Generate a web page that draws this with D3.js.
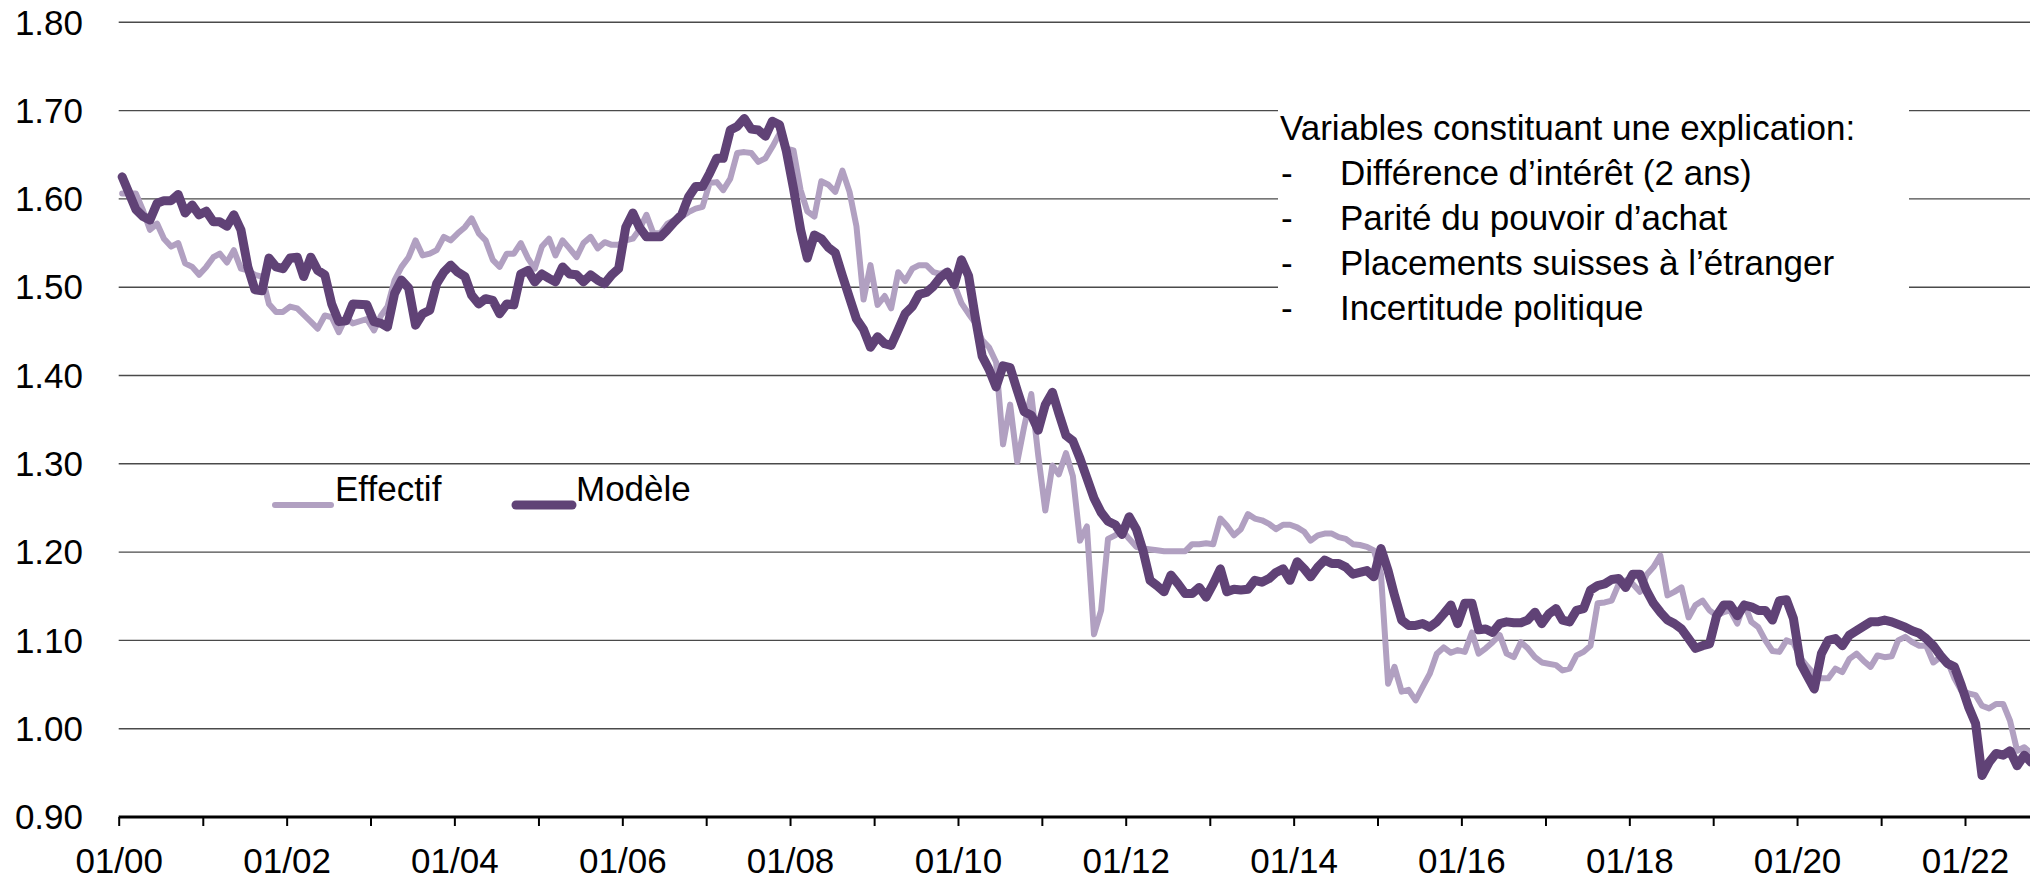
<!DOCTYPE html>
<html>
<head>
<meta charset="utf-8">
<script src="https://cdn.jsdelivr.net/npm/d3@7"></script>
<style>
  body { margin: 0; background: #fff; }
  text { font-family: "Liberation Sans", Arial, sans-serif; fill: #000; }
</style>
</head>
<body>
<svg id="chart"></svg>
<script>
// months since 01/2000, value (EUR/CHF)
var effectif = [[0,1.606],[2,1.606],[3,1.587],[4,1.565],[5,1.572],[6,1.555],[7,1.546],[8,1.550],[9,1.527],[10,1.523],[11,1.514],[12,1.523],[13,1.534],[14,1.538],[15,1.528],[16,1.542],[17,1.521],[18,1.519],[19,1.514],[20,1.512],[21,1.481],[22,1.472],[23,1.472],[24,1.478],[25,1.476],[27,1.461],[28,1.453],[29,1.468],[30,1.466],[31,1.449],[32,1.466],[33,1.459],[35,1.464],[36,1.451],[37,1.468],[38,1.478],[39,1.508],[40,1.523],[41,1.534],[42,1.553],[43,1.536],[44,1.538],[45,1.542],[46,1.557],[47,1.553],[48,1.561],[49,1.568],[50,1.578],[51,1.561],[52,1.553],[53,1.531],[54,1.523],[55,1.538],[56,1.538],[57,1.550],[58,1.533],[59,1.521],[60,1.546],[61,1.555],[62,1.536],[63,1.553],[64,1.544],[65,1.534],[66,1.550],[67,1.557],[68,1.544],[69,1.551],[70,1.548],[71,1.548],[72,1.553],[73,1.555],[74,1.565],[75,1.582],[76,1.561],[77,1.561],[78,1.572],[80,1.580],[81,1.585],[82,1.589],[83,1.591],[84,1.618],[85,1.619],[86,1.610],[87,1.623],[88,1.652],[89,1.653],[90,1.652],[91,1.642],[92,1.646],[93,1.659],[94,1.674],[95,1.657],[96,1.655],[97,1.610],[98,1.586],[99,1.580],[100,1.620],[101,1.616],[102,1.608],[103,1.632],[104,1.608],[105,1.569],[106,1.486],[107,1.525],[108,1.480],[109,1.490],[110,1.476],[111,1.517],[112,1.507],[113,1.521],[114,1.525],[115,1.525],[116,1.517],[117,1.515],[118,1.519],[119,1.503],[120,1.482],[121,1.470],[122,1.460],[123,1.440],[124,1.432],[125,1.415],[126,1.322],[127,1.367],[128,1.302],[129,1.342],[130,1.379],[131,1.310],[132,1.247],[133,1.298],[134,1.288],[135,1.312],[136,1.286],[137,1.213],[138,1.229],[139,1.107],[140,1.134],[141,1.215],[142,1.219],[143,1.225],[144,1.215],[145,1.206],[146,1.204],[148,1.202],[149,1.201],[150,1.201],[152,1.201],[153,1.209],[154,1.209],[155,1.210],[156,1.209],[157,1.238],[158,1.230],[159,1.219],[160,1.226],[161,1.243],[162,1.238],[163,1.236],[164,1.232],[165,1.226],[166,1.231],[167,1.231],[168,1.228],[169,1.223],[170,1.213],[171,1.219],[172,1.221],[173,1.221],[174,1.217],[175,1.215],[176,1.209],[177,1.208],[178,1.206],[179,1.202],[180,1.175],[181,1.051],[182,1.070],[183,1.042],[184,1.044],[185,1.032],[186,1.047],[187,1.062],[188,1.085],[189,1.092],[190,1.086],[191,1.089],[192,1.087],[193,1.109],[194,1.085],[195,1.091],[196,1.098],[197,1.106],[198,1.085],[199,1.081],[200,1.098],[201,1.091],[202,1.081],[203,1.075],[205,1.072],[206,1.066],[207,1.068],[208,1.083],[209,1.087],[210,1.094],[211,1.142],[212,1.143],[213,1.145],[214,1.164],[215,1.168],[216,1.164],[217,1.155],[218,1.174],[219,1.183],[220,1.196],[221,1.151],[222,1.155],[223,1.160],[224,1.126],[225,1.140],[226,1.145],[227,1.134],[228,1.128],[229,1.132],[230,1.134],[231,1.119],[232,1.142],[233,1.121],[234,1.115],[235,1.100],[236,1.088],[237,1.087],[238,1.100],[239,1.097],[240,1.080],[241,1.070],[242,1.062],[243,1.057],[244,1.057],[245,1.068],[246,1.064],[247,1.079],[248,1.085],[249,1.077],[250,1.070],[251,1.083],[252,1.081],[253,1.082],[254,1.100],[255,1.104],[256,1.098],[257,1.094],[258,1.094],[259,1.075],[260,1.081],[261,1.077],[262,1.057],[263,1.043],[264,1.040],[265,1.038],[266,1.026],[267,1.023],[268,1.028],[269,1.028],[270,1.009],[271,0.975],[272,0.979],[273,0.972]]

var modele = [[0,1.625],[2,1.588],[3,1.580],[4,1.576],[5,1.595],[6,1.598],[7,1.598],[8,1.605],[9,1.584],[10,1.593],[11,1.582],[12,1.586],[13,1.574],[14,1.574],[15,1.569],[16,1.582],[17,1.565],[18,1.523],[19,1.497],[20,1.496],[21,1.533],[22,1.523],[23,1.521],[24,1.533],[25,1.534],[26,1.512],[27,1.534],[28,1.519],[29,1.514],[30,1.481],[31,1.461],[32,1.462],[33,1.481],[35,1.480],[36,1.461],[37,1.459],[38,1.455],[39,1.493],[40,1.508],[41,1.499],[42,1.457],[43,1.470],[44,1.474],[45,1.504],[46,1.517],[47,1.525],[48,1.517],[49,1.512],[50,1.491],[51,1.481],[52,1.487],[53,1.485],[54,1.470],[55,1.481],[56,1.480],[57,1.515],[58,1.519],[59,1.506],[60,1.515],[61,1.510],[62,1.506],[63,1.523],[64,1.515],[65,1.514],[66,1.506],[67,1.514],[68,1.508],[69,1.504],[70,1.514],[71,1.521],[72,1.568],[73,1.584],[74,1.568],[75,1.557],[77,1.557],[78,1.565],[79,1.574],[80,1.582],[81,1.602],[82,1.614],[83,1.614],[84,1.629],[85,1.646],[86,1.646],[87,1.678],[88,1.682],[89,1.691],[90,1.679],[91,1.678],[92,1.671],[93,1.688],[94,1.684],[95,1.654],[96,1.612],[97,1.565],[98,1.533],[99,1.559],[100,1.555],[101,1.545],[102,1.539],[103,1.513],[104,1.488],[105,1.464],[106,1.452],[107,1.432],[108,1.444],[109,1.436],[110,1.434],[111,1.452],[112,1.470],[113,1.478],[114,1.492],[115,1.494],[116,1.501],[117,1.511],[118,1.517],[119,1.503],[120,1.531],[121,1.513],[122,1.468],[123,1.422],[124,1.407],[125,1.387],[126,1.411],[127,1.409],[128,1.383],[129,1.359],[130,1.355],[131,1.338],[132,1.367],[133,1.381],[134,1.357],[135,1.332],[136,1.326],[137,1.306],[138,1.284],[139,1.261],[140,1.245],[141,1.235],[142,1.231],[143,1.220],[144,1.240],[145,1.226],[146,1.202],[147,1.168],[148,1.162],[149,1.155],[150,1.174],[151,1.164],[152,1.153],[153,1.153],[154,1.160],[155,1.149],[156,1.164],[157,1.181],[158,1.155],[159,1.158],[160,1.157],[161,1.158],[162,1.168],[163,1.166],[164,1.170],[165,1.177],[166,1.181],[167,1.168],[168,1.189],[169,1.181],[170,1.172],[171,1.183],[172,1.191],[173,1.187],[174,1.187],[175,1.183],[176,1.175],[177,1.177],[178,1.179],[179,1.172],[180,1.204],[181,1.179],[182,1.151],[183,1.123],[184,1.117],[185,1.117],[186,1.119],[187,1.115],[188,1.121],[189,1.130],[190,1.140],[191,1.119],[192,1.142],[193,1.142],[194,1.112],[195,1.113],[196,1.109],[197,1.119],[198,1.121],[199,1.120],[200,1.120],[201,1.123],[202,1.132],[203,1.119],[204,1.130],[205,1.136],[206,1.123],[207,1.121],[208,1.134],[209,1.136],[210,1.157],[211,1.162],[212,1.164],[213,1.169],[214,1.170],[215,1.160],[216,1.175],[217,1.175],[218,1.157],[219,1.142],[220,1.132],[221,1.123],[222,1.119],[223,1.113],[224,1.102],[225,1.091],[226,1.094],[227,1.096],[228,1.128],[229,1.140],[230,1.140],[231,1.128],[232,1.140],[233,1.138],[234,1.134],[235,1.134],[236,1.123],[237,1.145],[238,1.146],[239,1.125],[240,1.074],[241,1.059],[242,1.045],[243,1.085],[244,1.100],[245,1.102],[246,1.094],[247,1.106],[248,1.111],[250,1.121],[251,1.121],[252,1.123],[253,1.121],[255,1.115],[256,1.111],[257,1.108],[258,1.102],[259,1.094],[260,1.083],[261,1.074],[262,1.070],[263,1.049],[264,1.025],[265,1.006],[266,0.947],[267,0.962],[268,0.972],[269,0.970],[270,0.975],[271,0.958],[272,0.970],[273,0.962]]

var yTicks = [0.9, 1.0, 1.1, 1.2, 1.3, 1.4, 1.5, 1.6, 1.7, 1.8]
var tickYears = d3.range(2000, 2023)
var labelYears = d3.range(2000, 2023, 2)
var series = [
  {name: 'Effectif', data: effectif, color: '#b1a0c1', width: 6},
  {name: 'Modèle', data: modele, color: '#604276', width: 9},
]
var notes = ['Différence d’intérêt (2 ans)', 'Parité du pouvoir d’achat', 'Placements suisses à l’étranger', 'Incertitude politique']

var W = 2030, H = 879
var svg = d3.select('#chart').attr('width', W).attr('height', H)

var x = d3.scaleTime()
  .domain([new Date(2000, 0, 1), new Date(2022, 0, 1)])
  .range([118.7, 1965])
var y = d3.scaleLinear().domain([0.9, 1.8]).range([817, 22.3])

var monthDate = m => new Date(2000, m, 16)

// grid
svg.append('g').selectAll('line')
  .data(yTicks.filter(d => d > 0.9))
  .join('line')
  .attr('x1', x.range()[0]).attr('x2', W)
  .attr('y1', d => y(d)).attr('y2', d => y(d))
  .attr('stroke', '#4a4a4a').attr('stroke-width', 1.4)

// y labels
svg.append('g').selectAll('text')
  .data(yTicks)
  .join('text')
  .attr('x', 83).attr('y', d => y(d))
  .attr('dy', '0.35em')
  .attr('text-anchor', 'end')
  .style('font-size', '35px')
  .text(d => d3.format('.2f')(d))

// x axis
var xAxis = d3.axisBottom(x)
  .tickValues(tickYears.map(d => new Date(d, 0, 1)))
  .tickSize(9)
  .tickFormat(d => labelYears.includes(d.getFullYear()) ? '01/' + String(d.getFullYear()).slice(2) : '')
var gx = svg.append('g').attr('transform', 'translate(0,' + y(0.9) + ')').call(xAxis)
gx.select('.domain').remove()
gx.selectAll('line').attr('stroke', '#000').attr('stroke-width', 2)
gx.selectAll('text')
  .attr('y', 56).attr('dy', 0)
  .style('font-size', '35px')
  .style('font-family', '"Liberation Sans", Arial, sans-serif')
  .attr('fill', '#000')
svg.append('line')
  .attr('x1', x.range()[0]).attr('x2', W)
  .attr('y1', y(0.9)).attr('y2', y(0.9))
  .attr('stroke', '#000').attr('stroke-width', 3)

// annotation box
var note = svg.append('g')
note.append('rect')
  .attr('x', 1278).attr('y', 96).attr('width', 631).attr('height', 244)
  .attr('fill', '#fff')
note.append('text')
  .attr('x', 1280).attr('y', 140)
  .style('font-size', '35px')
  .text('Variables constituant une explication:')
var items = note.selectAll('g.item').data(notes).join('g')
  .attr('transform', (d, i) => 'translate(0,' + (185 + i * 45) + ')')
items.append('text').attr('x', 1281).style('font-size', '35px').text('-')
items.append('text').attr('x', 1340).style('font-size', '35px').text(d => d)

// lines
var line = d3.line()
  .x(d => x(monthDate(d[0])))
  .y(d => y(d[1]))

svg.append('g').selectAll('path')
  .data(series)
  .join('path')
  .attr('d', d => line(d.data))
  .attr('fill', 'none')
  .attr('stroke', d => d.color)
  .attr('stroke-width', d => d.width)
  .attr('stroke-linejoin', 'round')
  .attr('stroke-linecap', 'round')

// legend
var legendX = [275, 516]
var lg = svg.append('g').selectAll('g').data(series).join('g')
  .attr('transform', (d, i) => 'translate(' + legendX[i] + ',505)')
lg.append('line')
  .attr('x1', 0).attr('x2', 56)
  .attr('stroke', d => d.color)
  .attr('stroke-width', d => d.width)
  .attr('stroke-linecap', 'round')
lg.append('text')
  .attr('x', 60).attr('y', -4)
  .style('font-size', '35px')
  .text(d => d.name)
</script>
</body>
</html>
